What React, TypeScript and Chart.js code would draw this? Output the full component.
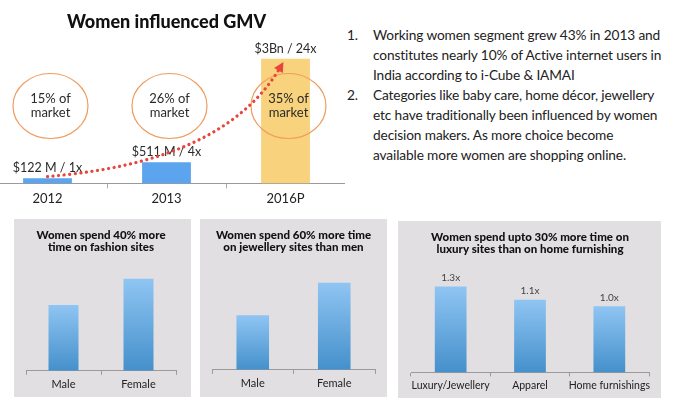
import React, { useEffect, useRef } from "react";
import { Chart, registerables } from "chart.js";

Chart.register(...registerables);

const FONT = "Lato, 'Open Sans', sans-serif";

// ---- Top chart: Women influenced GMV ----
const gmvTitle = "Women influenced GMV";
const gmvYears = ["2012", "2013", "2016P"];
const gmvValuesM = [122, 511, 3000];
const gmvValueLabels = ["$122 M / 1x", "$511 M / 4x", "$3Bn / 24x"];
const marketShareLines = [
  ["15% of", "market"],
  ["26% of", "market"],
  ["35% of", "market"],
];
const gmvBarColors = ["#5CA4EE", "#5CA4EE", "#F8D27C"];
// dotted growth arrow: bezier control points (category index, $M)
const trendX = [0, 0.69, 1.57, 1.97];
const trendY = [165, 331, 850, 2858];

// ---- Bottom panels ----
const fashionTitle = ["Women spend 40% more", "time on fashion sites"];
const fashionCats = ["Male", "Female"];
const fashionValues = [1.0, 1.4];

const jewelleryTitle = ["Women spend 60% more time", "on jewellery sites than men"];
const jewelleryCats = ["Male", "Female"];
const jewelleryValues = [1.0, 1.6];

const luxuryTitle = ["Women spend upto 30% more time on", "luxury sites than on home furnishing"];
const luxuryCats = ["Luxury/Jewellery", "Apparel", "Home furnishings"];
const luxuryValues = [1.3, 1.1, 1.0];
const luxuryValueLabels = ["1.3x", "1.1x", "1.0x"];

// ---- Notes ----
const notes = [
  [
    "Working women segment grew 43% in 2013 and",
    "constitutes nearly 10% of Active internet users in",
    "India according to i-Cube & IAMAI",
  ],
  [
    "Categories like baby care, home décor, jewellery",
    "etc have traditionally been influenced by women",
    "decision makers. As more choice become",
    "available more women are shopping online.",
  ],
];

function GmvChart() {
  const ref = useRef<HTMLCanvasElement>(null);
  useEffect(() => {
    const overlay = {
      id: "gmvOverlay",
      afterDatasetsDraw(chart: any) {
        const { ctx, chartArea } = chart;
        const xs = chart.scales.x;
        const ys = chart.scales.y;
        const meta = chart.getDatasetMeta(0);
        ctx.save();
        ctx.textAlign = "center";
        ctx.textBaseline = "middle";
        ctx.font = `13px ${FONT}`;
        // ellipses with market share
        meta.data.forEach((bar: any, i: number) => {
          const cx = bar.x + 3;
          const cy = chartArea.top + (chartArea.bottom - chartArea.top) * 0.38;
          ctx.beginPath();
          ctx.ellipse(cx, cy, 37.5, 32.5, 0, 0, Math.PI * 2);
          ctx.strokeStyle = "#EF9D5E";
          ctx.lineWidth = 1.2;
          ctx.stroke();
          ctx.fillStyle = "#2a2a2a";
          ctx.fillText(marketShareLines[i][0], cx, cy - 7);
          ctx.fillText(marketShareLines[i][1], cx, cy + 7);
        });
        // value labels
        ctx.font = `12.5px ${FONT}`;
        meta.data.forEach((bar: any, i: number) => {
          ctx.fillStyle = "#2a2a2a";
          ctx.fillText(gmvValueLabels[i], bar.x, bar.y - 10);
        });
        // dotted trend curve
        const p = trendX.map((v, i) => [xs.getPixelForValue(v), ys.getPixelForValue(trendY[i])]);
        ctx.beginPath();
        ctx.moveTo(p[0][0], p[0][1]);
        ctx.bezierCurveTo(p[1][0], p[1][1], p[2][0], p[2][1], p[3][0], p[3][1]);
        ctx.setLineDash([0.1, 5.5]);
        ctx.lineCap = "round";
        ctx.lineWidth = 3.2;
        ctx.strokeStyle = "#E8453C";
        ctx.stroke();
        ctx.setLineDash([]);
        // arrow head
        const ang = Math.atan2(p[3][1] - p[2][1], p[3][0] - p[2][0]);
        const tipX = p[3][0] + Math.cos(ang) * 3;
        const tipY = p[3][1] + Math.sin(ang) * 3;
        const len = 10;
        const half = 5;
        const bx = tipX - Math.cos(ang) * len;
        const by = tipY - Math.sin(ang) * len;
        ctx.beginPath();
        ctx.moveTo(tipX, tipY);
        ctx.lineTo(bx + Math.sin(ang) * half, by - Math.cos(ang) * half);
        ctx.lineTo(bx - Math.sin(ang) * half, by + Math.cos(ang) * half);
        ctx.closePath();
        ctx.fillStyle = "#E8453C";
        ctx.fill();
        ctx.restore();
      },
    };
    const chart = new Chart(ref.current!, {
      type: "bar",
      data: {
        labels: gmvYears,
        datasets: [
          {
            data: gmvValuesM,
            backgroundColor: gmvBarColors,
            borderWidth: 0,
            categoryPercentage: 1,
            barPercentage: 0.41,
          },
        ],
      },
      options: {
        responsive: false,
        animation: false,
        events: [],
        layout: { padding: { left: 0, right: 0, top: 0, bottom: 0 } },
        plugins: {
          legend: { display: false },
          tooltip: { enabled: false },
          title: {
            display: true,
            text: gmvTitle,
            color: "#111",
            font: { family: FONT, size: 18, weight: "900", lineHeight: 1.2 },
            padding: { top: 11, bottom: 26 },
          },
        },
        scales: {
          y: { display: false, min: 0, max: 3000 },
          x: {
            offset: true,
            grid: {
              display: true,
              offset: true,
              drawOnChartArea: false,
              drawTicks: true,
              tickLength: 5,
              color: "#aaaaaa",
            },
            border: { display: true, color: "#9a9a9a", width: 1 },
            ticks: { color: "#222", font: { family: FONT, size: 13 }, padding: 3 },
          },
        },
      },
      plugins: [overlay],
    } as any);
    return () => chart.destroy();
  }, []);
  return (
    <canvas
      ref={ref}
      width={357}
      height={210}
      style={{ position: "absolute", left: -12, top: 0, width: 357, height: 210 }}
    />
  );
}

type MiniProps = {
  left: number;
  top: number;
  width: number;
  height: number;
  title: string[];
  cats: string[];
  values: number[];
  yMax: number;
  padL: number;
  padR: number;
  padB: number;
  titleGap: number;
  tickSize: number;
  valueLabels?: string[];
};

function MiniBar(props: MiniProps) {
  const ref = useRef<HTMLCanvasElement>(null);
  useEffect(() => {
    const { title, cats, values, yMax, padL, padR, padB, titleGap, valueLabels, tickSize } = props;
    const labelPlugin = {
      id: "miniLabels",
      afterDatasetsDraw(chart: any) {
        if (!valueLabels) return;
        const { ctx } = chart;
        const meta = chart.getDatasetMeta(0);
        ctx.save();
        ctx.font = `10px ${FONT}`;
        ctx.fillStyle = "#444";
        ctx.textAlign = "center";
        ctx.textBaseline = "middle";
        meta.data.forEach((bar: any, i: number) => {
          ctx.fillText(valueLabels[i], bar.x, bar.y - 9);
        });
        ctx.restore();
      },
    };
    const chart = new Chart(ref.current!, {
      type: "bar",
      data: {
        labels: cats,
        datasets: [
          {
            data: values,
            borderWidth: 0,
            categoryPercentage: 1,
            barPercentage: 0.4,
            backgroundColor: (c: any) => {
              const ch = c.chart;
              const ys = ch.scales && ch.scales.y;
              if (!ch.chartArea || !ys) return "#6AAAE2";
              const v = c.raw as number;
              const yTop = ys.getPixelForValue(v);
              const yBot = ys.getPixelForValue(0);
              if (!isFinite(yTop) || !isFinite(yBot) || yTop === yBot) return "#6AAAE2";
              const g = ch.ctx.createLinearGradient(0, yTop, 0, yBot);
              g.addColorStop(0, "#8FC5F3");
              g.addColorStop(1, "#4590CB");
              return g;
            },
          },
        ],
      },
      options: {
        responsive: false,
        animation: false,
        events: [],
        layout: { padding: { left: padL, right: padR, top: 0, bottom: padB } },
        plugins: {
          legend: { display: false },
          tooltip: { enabled: false },
          title: {
            display: true,
            text: title,
            color: "#111",
            font: { family: FONT, size: 11.5, weight: "900", lineHeight: 1.05 },
            padding: { top: 10, bottom: titleGap },
          },
        },
        scales: {
          y: { display: false, min: 0, max: yMax },
          x: {
            offset: true,
            grid: {
              display: true,
              offset: true,
              drawOnChartArea: false,
              drawTicks: true,
              tickLength: 4,
              color: "#9a9a9a",
            },
            border: { display: true, color: "#9a9a9a", width: 1 },
            ticks: {
              color: "#222",
              font: { family: FONT, size: tickSize },
              padding: 3,
              maxRotation: 0,
              minRotation: 0,
              autoSkip: false,
            },
          },
        },
      },
      plugins: [labelPlugin],
    } as any);
    return () => chart.destroy();
  }, []);
  return (
    <div
      style={{
        position: "absolute",
        left: props.left,
        top: props.top,
        width: props.width,
        height: props.height,
        background: "#E2DFE2",
      }}
    >
      <canvas
        ref={ref}
        width={props.width}
        height={props.height}
        style={{ display: "block", width: props.width, height: props.height }}
      />
    </div>
  );
}

function Notes() {
  return (
    <div
      style={{
        position: "absolute",
        left: 347,
        top: 25,
        fontFamily: FONT,
        fontSize: 13.7,
        letterSpacing: "-0.12px",
        lineHeight: "20px",
        color: "#222",
        whiteSpace: "nowrap",
      }}
    >
      {notes.map((lines, i) => (
        <div key={i} style={{ position: "relative", paddingLeft: 26 }}>
          <span style={{ position: "absolute", left: 0, top: 0 }}>{i + 1}.</span>
          {lines.map((l, j) => (
            <div key={j}>{l}</div>
          ))}
        </div>
      ))}
    </div>
  );
}

export default function App() {
  return (
    <div
      style={{
        position: "fixed",
        left: 0,
        top: 0,
        width: 680,
        height: 398,
        background: "#fff",
        overflow: "hidden",
      }}
    >
      <GmvChart />
      <Notes />
      <MiniBar
        left={14}
        top={219}
        width={177}
        height={178}
        title={fashionTitle}
        cats={fashionCats}
        values={fashionValues}
        yMax={1.5}
        padL={12}
        padR={15}
        padB={3}
        titleGap={19}
        tickSize={11}
      />
      <MiniBar
        left={200}
        top={219}
        width={187}
        height={178}
        title={jewelleryTitle}
        cats={jewelleryCats}
        values={jewelleryValues}
        yMax={1.8}
        padL={12}
        padR={12}
        padB={4}
        titleGap={18.6}
        tickSize={11}
      />
      <MiniBar
        left={398}
        top={221}
        width={263}
        height={177}
        title={luxuryTitle}
        cats={luxuryCats}
        values={luxuryValues}
        yMax={1.6}
        padL={13}
        padR={12}
        padB={3}
        titleGap={11.5}
        tickSize={10.5}
        valueLabels={luxuryValueLabels}
      />
    </div>
  );
}
